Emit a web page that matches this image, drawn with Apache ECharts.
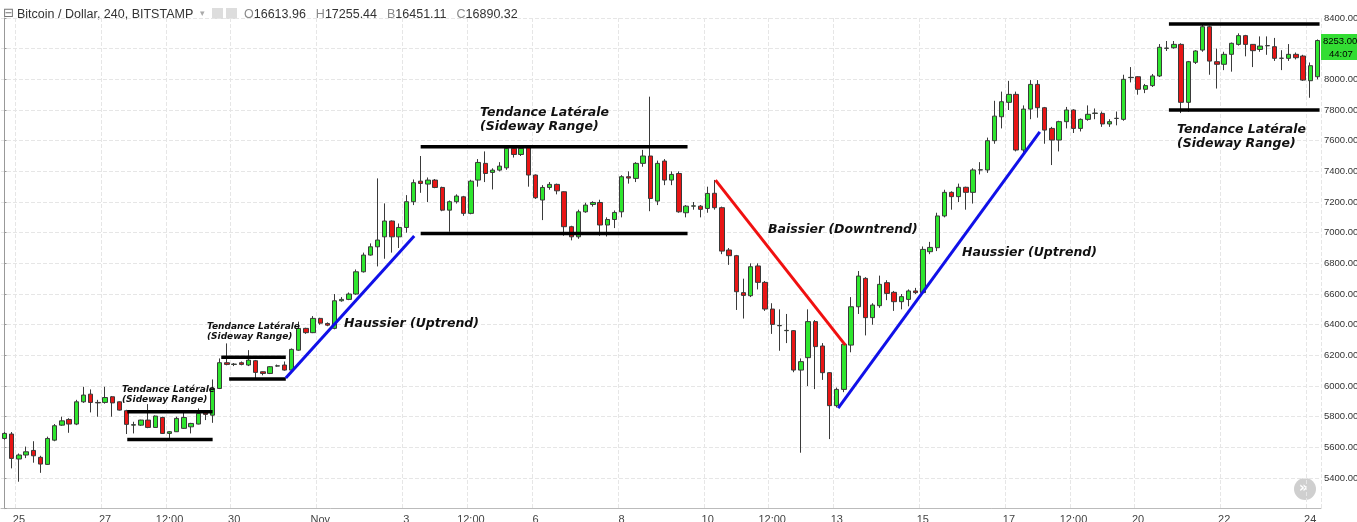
<!DOCTYPE html>
<html><head><meta charset="utf-8">
<script src="https://cdn.jsdelivr.net/npm/echarts@6/dist/echarts.min.js"></script>
<style>html,body{margin:0;padding:0;background:#fff}#c{width:1357px;height:522px}</style>
</head><body><div id="c"></div>
<script>
// 4h candles starting 2017-10-24 16:00 ; rows: [open, close, low, high]
const candles = [
[5658,5691,5650,5700],[5687,5528,5463,5700],[5524,5550,5376,5560],[5550,5571,5530,5605],[5580,5545,5500,5640],
[5535,5491,5434,5545],[5489,5658,5485,5670],[5647,5741,5640,5752],[5745,5773,5740,5800],[5782,5752,5695,5790],
[5752,5897,5745,5910],[5897,5941,5890,5995],[5947,5893,5828,5978],[5893,5890,5800,5910],[5893,5925,5885,5995],
[5930,5890,5800,5935],[5897,5843,5840,5900],[5839,5750,5687,5845],[5745,5748,5691,5767],[5745,5778,5740,5780],
[5778,5730,5725,5882],[5730,5804,5728,5808],[5795,5691,5687,5800],[5691,5702,5658,5706],[5702,5789,5700,5800],
[5724,5795,5720,5832],[5734,5756,5691,5760],[5752,5821,5750,5854],[5825,5815,5778,5830],[5810,5984,5760,6043],
[5984,6152,5980,6180],[6152,6141,6135,6278],[6141,6143,6130,6150],[6152,6141,6135,6160],[6137,6169,6130,6234],
[6165,6089,6039,6170],[6093,6082,6070,6095],[6082,6126,6078,6130],[6130,6132,6125,6140],[6137,6104,6100,6160],
[6104,6239,6100,6245],[6234,6376,6230,6420],[6376,6348,6340,6380],[6348,6441,6345,6456],[6441,6410,6400,6445],
[6408,6397,6390,6415],[6376,6556,6370,6600],[6556,6565,6550,6580],[6565,6600,6560,6610],[6600,6745,6595,6760],
[6745,6854,6740,6870],[6854,6908,6850,6930],[6908,6952,6780,7354],[6973,7076,6830,7191],[7076,6973,6870,7080],
[6973,7034,6900,7060],[7034,7202,7000,7245],[7202,7326,7180,7347],[7336,7321,7260,7500],[7317,7343,7200,7360],
[7343,7295,7290,7350],[7295,7147,7140,7300],[7147,7202,7006,7210],[7202,7239,7190,7250],[7234,7126,7110,7240],
[7126,7336,7120,7345],[7343,7458,7300,7480],[7452,7386,7330,7530],[7393,7408,7282,7420],[7408,7434,7400,7460],
[7423,7550,7410,7570],[7550,7510,7490,7570],[7510,7550,7500,7570],[7560,7376,7300,7565],[7376,7228,7220,7380],
[7213,7295,7082,7310],[7295,7315,7280,7330],[7315,7273,7250,7320],[7267,7039,6980,7270],[7039,6973,6950,7045],
[6973,7136,6960,7150],[7136,7180,7130,7195],[7184,7197,7170,7205],[7197,7050,6980,7215],[7050,7086,6975,7100],
[7086,7132,7030,7145],[7136,7365,7100,7375],[7365,7356,7320,7400],[7354,7452,7330,7460],[7452,7500,7430,7540],
[7500,7223,7140,7887],[7206,7452,7180,7470],[7467,7343,7310,7480],[7343,7380,7310,7400],[7386,7136,7130,7400],
[7130,7173,7100,7180],[7173,7175,7150,7200],[7173,7152,7100,7180],[7158,7256,7130,7300],[7257,7163,7150,7344],
[7163,6880,6860,7170],[6887,6850,6790,6900],[6850,6615,6496,6855],[6609,6591,6440,6700],[6589,6778,6580,6800],
[6783,6676,6630,6800],[6676,6502,6490,6685],[6502,6402,6340,6540],[6393,6395,6230,6500],[6361,6363,6280,6470],
[6361,6104,6090,6365],[6104,6159,5565,6180],[6185,6420,6000,6500],[6420,6257,5980,6430],[6261,6087,6040,6280],
[6087,5872,5654,6090],[5872,5978,5860,5990],[5978,6272,5960,6290],[6267,6517,6220,6580],[6517,6717,6470,6750],
[6702,6446,6330,6710],[6446,6528,6400,6540],[6524,6663,6510,6720],[6674,6604,6560,6690],[6611,6550,6490,6620],
[6550,6583,6500,6600],[6565,6620,6520,6630],[6620,6609,6600,6640],[6609,6891,6600,6910],[6876,6904,6860,6940],
[6902,7109,6880,7130],[7109,7263,7100,7280],[7263,7235,7150,7270],[7235,7296,7200,7320],[7296,7263,7150,7300],
[7263,7409,7190,7420],[7409,7410,7380,7460],[7409,7600,7390,7620],[7600,7760,7580,7860],[7756,7854,7680,7920],
[7850,7902,7800,7990],[7902,7539,7530,7920],[7539,7806,7520,7830],[7806,7967,7740,7995],[7967,7815,7750,7995],
[7815,7669,7580,7820],[7680,7604,7441,7690],[7604,7724,7530,7730],[7724,7800,7680,7820],[7800,7680,7650,7805],
[7680,7739,7660,7745],[7739,7772,7730,7830],[7778,7780,7740,7810],[7778,7709,7690,7790],[7709,7724,7690,7740],
[7745,7746,7700,7790],[7739,8000,7730,8030],[8011,8013,7980,8080],[8017,7935,7900,8020],[7935,7959,7910,7970],
[7959,8022,7950,8035],[8022,8209,8015,8230],[8202,8204,8185,8250],[8206,8228,8200,8250],[8228,7850,7780,8235],
[7850,8115,7790,8120],[8111,8185,8100,8190],[8191,8343,8180,8355],[8343,8119,8030,8350],[8115,8098,7940,8200],
[8098,8163,8060,8180],[8163,8235,8050,8240],[8228,8285,8220,8300],[8285,8228,8150,8290],[8228,8187,8080,8230],
[8195,8217,8180,8280],[8219,8220,8160,8280],[8213,8137,8120,8270],[8137,8138,8060,8190],[8137,8163,8120,8230],
[8163,8141,8130,8175],[8152,7995,7990,8160],[7991,8089,7880,8110],[8017,8253,8000,8260]
];
const tickLabels = [
['10-25 00:00','25'],['10-27 00:00','27'],['10-28 12:00','12:00'],['10-30 00:00','30'],['11-1 00:00','Nov'],
['11-3 00:00','3'],['11-4 12:00','12:00'],['11-6 00:00','6'],['11-8 00:00','8'],['11-10 00:00','10'],
['11-11 12:00','12:00'],['11-13 00:00','13'],['11-15 00:00','15'],['11-17 00:00','17'],['11-18 12:00','12:00'],
['11-20 00:00','20'],['11-22 00:00','22'],['11-24 00:00','24']
];
const priceTicks = [5400,8400,200];
// [x1 candle index, y1, x2, y2]
const rangeLines = [
[17.1,5832,29,5832],[17.1,5652,29,5652],
[30.2,6187,39.2,6187],[31.3,6045,39.2,6045],
[58,7560,95.2,7560],[58,6995,95.2,6995],
[162.3,8361,183.3,8361],[162.3,7800,183.3,7800]
];
const trendLines = [
[39.2,6052,57.1,6978,'#1010e8'],
[99.1,7343,117.2,6267,'#f01010'],
[116.2,5856,144.3,7657,'#1010e8']
];
const annotations = [
['Tendance Latérale\n(Sideway Range)',122,385,9],
['Tendance Latérale\n(Sideway Range)',207,322,9],
['Tendance Latérale\n(Sideway Range)',480,106,12.5],
['Haussier (Uptrend)',344,317,12.5],
['Baissier (Downtrend)',768,223,12.5],
['Haussier (Uptrend)',962,246,12.5],
['Tendance Latérale\n(Sideway Range)',1177,123,12.5]
];

const start = Date.UTC(2017,9,24,16);
const cats = candles.map((c,k)=>{const d=new Date(start+k*4*3600e3);
  return (d.getUTCMonth()+1)+'-'+d.getUTCDate()+' '+String(d.getUTCHours()).padStart(2,'0')+':00';});
const labelMap = Object.fromEntries(tickLabels);
const showTick = (i,v)=> labelMap[v]!==undefined;
const N = candles.length;

const series = [{
  type:'candlestick', data:candles, barWidth:'68%', clip:false,
  itemStyle:{color:'#2ee62e',color0:'#e81515',borderColor:'#3a3a3a',borderColor0:'#3a3a3a',borderWidth:1}
}];
rangeLines.forEach(l=>series.push({type:'line',xAxisIndex:1,data:[[l[0],l[1]],[l[2],l[3]]],symbol:'none',silent:true,
  lineStyle:{color:'#000',width:3.5},z:5}));
trendLines.forEach(l=>series.push({type:'line',xAxisIndex:1,data:[[l[0],l[1]],[l[2],l[3]]],symbol:'none',silent:true,
  lineStyle:{color:l[4],width:3},z:5}));

const gtext = annotations.map(a=>({type:'text',left:a[1],top:a[2],z:50,style:{text:a[0],
  font:'italic bold '+a[3]+'px "DejaVu Sans"',fill:'#111',lineHeight:a[3]+1}}));

const chart = echarts.init(document.getElementById('c'));
chart.setOption({
  animation:false,
  grid:{left:1,right:36,top:18,bottom:13.3,outerBoundsMode:'none',containLabel:false},
  xAxis:[{type:'category',data:cats,boundaryGap:true,
    axisLine:{lineStyle:{color:'#bbb'}},axisTick:{show:false},
    axisLabel:{interval:showTick,formatter:v=>labelMap[v]||'',color:'#444',fontSize:11,fontFamily:'Liberation Sans',margin:6},
    splitLine:{show:true,interval:showTick,lineStyle:{color:'#e6e6e6',type:'dashed'}}},
   {type:'value',min:-0.5,max:N-0.5,show:false}],
  yAxis:{type:'value',position:'right',min:priceTicks[0]-200,max:priceTicks[1],interval:priceTicks[2],
    axisLine:{show:true,lineStyle:{color:'#999'}},axisTick:{show:true,length:2},
    axisLabel:{formatter:v=>v<priceTicks[0]?'':v.toFixed(2),color:'#333',fontSize:9.5,fontFamily:'Liberation Sans',margin:3},
    splitLine:{lineStyle:{color:'#e6e6e6',type:'dashed'}}},
  series,
  graphic:[
    {type:'text',left:3,top:7,style:{text:'⊟',font:'13px "DejaVu Sans"',fill:'#777'}},
    {type:'text',left:17,top:8,style:{text:'Bitcoin / Dollar, 240, BITSTAMP',font:'12.5px "Liberation Sans"',fill:'#333'}},
    {type:'text',left:200,top:9,style:{text:'▾',font:'9px "DejaVu Sans"',fill:'#aaa'}},
    {type:'rect',left:212,top:8,shape:{width:11,height:11},style:{fill:'#ddd'}},
    {type:'rect',left:226,top:8,shape:{width:11,height:11},style:{fill:'#ddd'}},
    {type:'text',left:244,top:8,style:{text:'{l|O}{v|16613.96}   {l|H}{v|17255.44}   {l|B}{v|16451.11}   {l|C}{v|16890.32}',
      rich:{l:{font:'12.5px "Liberation Sans"',fill:'#888'},v:{font:'12.5px "Liberation Sans"',fill:'#333'}}}},
    {type:'rect',left:1321,top:34,shape:{width:36,height:13},style:{fill:'#33dd33'},z:60},
    {type:'text',left:1323,top:36,z:61,style:{text:'8253.00',font:'9.5px "Liberation Sans"',fill:'#000'}},
    {type:'rect',left:1321,top:47,shape:{width:36,height:13},style:{fill:'#33dd33'},z:60},
    {type:'text',left:1329,top:49,z:61,style:{text:'44:07',font:'9.5px "Liberation Sans"',fill:'#000'}},
    {type:'circle',left:1294,top:478,shape:{r:11},style:{fill:'#cfcfcf'}},
    {type:'text',left:1299,top:481,style:{text:'»',font:'bold 14px "DejaVu Sans"',fill:'#fff'}},
    ...gtext
  ]
});
</script></body></html>
